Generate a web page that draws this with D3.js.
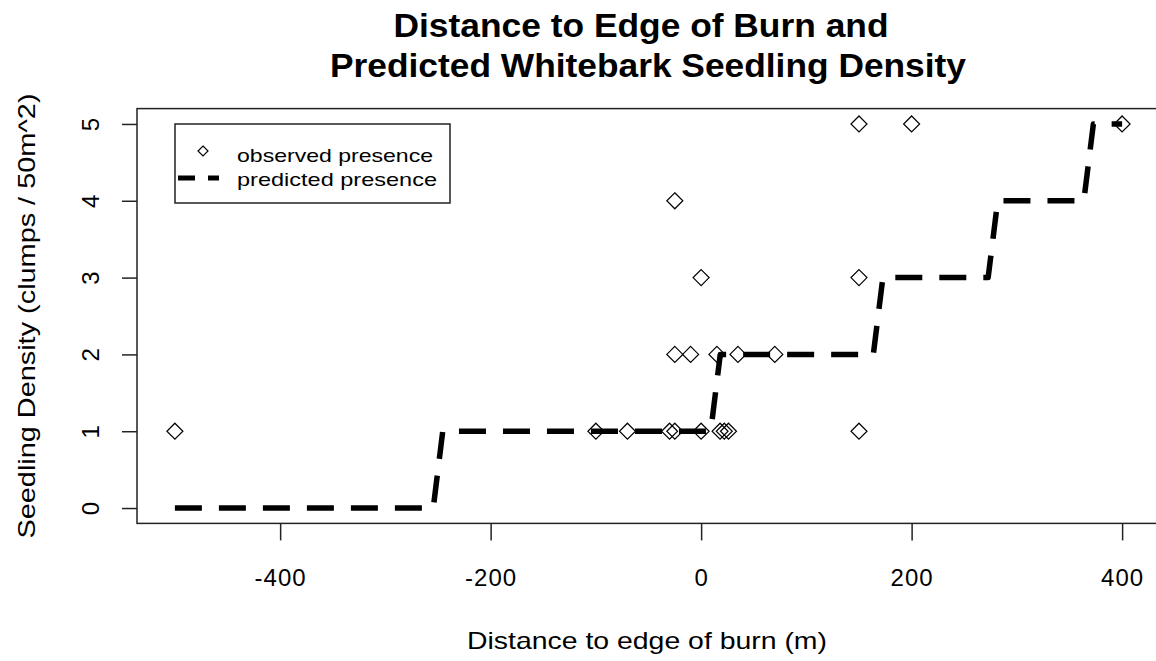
<!DOCTYPE html>
<html>
<head>
<meta charset="utf-8">
<script src="https://cdn.jsdelivr.net/npm/d3@7"></script>
<style>
  body { margin: 0; background: #fff; }
  svg { display: block; font-family: "Liberation Sans", Arial, sans-serif; }
</style>
</head>
<body>
<svg id="chart" width="1156" height="661"></svg>
<script>
// observed seedling density (x = distance to edge of burn, y = clumps / 50m^2)
const obsDist = [400, 200, 150, -25, 0, 150, -25, -10, 15, 35, 70,
	-500, -100, -70, -30, -25, 0, 18, 22, 26, 150];
const obsDensity = [5, 5, 5, 4, 3, 3, 2, 2, 2, 2, 2,
	1, 1, 1, 1, 1, 1, 1, 1, 1, 1];

// predicted (rounded) density, vertices of the step line
const predDist = [-500, -254.5, -245.5, 9.1, 18.2, 163.6, 172.7, 272.7, 281.8, 363.6, 372.7, 400];
const predDensity = [0, 0, 1, 1, 2, 2, 3, 3, 4, 4, 5, 5];

const xTicks = [-400, -200, 0, 200, 400];
const yTicks = [0, 1, 2, 3, 4, 5];

const titleLines = ["Distance to Edge of Burn and", "Predicted Whitebark Seedling Density"];
const xLabel = "Distance to edge of burn (m)";
const yLabel = "Seedling Density (clumps / 50m^2)";
const legendLabels = ["observed presence", "predicted presence"];

const svg = d3.select("#chart");
const margin = { left: 137, right: 1160, top: 108.6, bottom: 523.4 };

// R style 4% padding on both ranges
const x = d3.scaleLinear().domain([-536, 436]).range([margin.left, margin.right]);
const y = d3.scaleLinear().domain([-0.2, 5.2]).range([margin.bottom, margin.top]);

const diamond = (cx, cy, r) => `M${cx},${cy - r}L${cx + r},${cy}L${cx},${cy + r}L${cx - r},${cy}Z`;

// axes
const xAxis = svg.append("g")
	.attr("transform", `translate(0,${margin.bottom})`)
	.call(d3.axisBottom(x).tickValues(xTicks).tickSize(17).tickFormat(d3.format("d")));
xAxis.select(".domain").remove();
xAxis.selectAll("line").attr("stroke", "#222").attr("stroke-width", 1.5);
xAxis.selectAll("text")
	.attr("y", 46)
	.attr("fill", "#000")
	.style("font-size", "24px")
	.style("letter-spacing", "1px")
	.text((d) => String(d));

const yAxis = svg.append("g")
	.attr("transform", `translate(${margin.left},0)`)
	.call(d3.axisLeft(y).tickValues(yTicks).tickSize(15).tickFormat(d3.format("d")));
yAxis.select(".domain").remove();
yAxis.selectAll("line").attr("stroke", "#222").attr("stroke-width", 1.5);
yAxis.selectAll("text")
	.attr("x", 0)
	.attr("dy", null)
	.attr("transform", "translate(-47,0) rotate(-90)")
	.attr("text-anchor", "middle")
	.attr("dominant-baseline", "central")
	.attr("fill", "#000")
	.style("font-size", "24px");

// plot box
svg.append("rect")
	.attr("x", margin.left)
	.attr("y", margin.top)
	.attr("width", margin.right - margin.left)
	.attr("height", margin.bottom - margin.top)
	.attr("fill", "none")
	.attr("stroke", "#222")
	.attr("stroke-width", 1.5);

// observed points
svg.append("g")
	.selectAll("path")
	.data(obsDist.map((d, i) => ({ x: d, y: obsDensity[i] })))
	.join("path")
	.attr("d", (d) => diamond(x(d.x), y(d.y), 8))
	.attr("fill", "none")
	.attr("stroke", "#000")
	.attr("stroke-width", 1.2);

// predicted step line
const predLine = d3.line().x((d) => x(d.x)).y((d) => y(d.y));
svg.append("path")
	.attr("d", predLine(predDist.map((d, i) => ({ x: d, y: predDensity[i] }))))
	.attr("fill", "none")
	.attr("stroke", "#000")
	.attr("stroke-width", 5.5)
	.attr("stroke-dasharray", "27 17")
	.attr("stroke-linejoin", "round");

// title
svg.append("g")
	.selectAll("text")
	.data(titleLines)
	.join("text")
	.attr("x", (d, i) => (i === 0 ? 641 : 648))
	.attr("y", (d, i) => 37 + i * 40)
	.attr("text-anchor", "middle")
	.attr("textLength", (d, i) => (i === 0 ? 495 : 636))
	.attr("lengthAdjust", "spacingAndGlyphs")
	.style("font-size", "33px")
	.style("font-weight", "bold")
	.text((d) => d);

// axis titles
svg.append("text")
	.attr("x", 647)
	.attr("y", 649)
	.attr("text-anchor", "middle")
	.attr("textLength", 360)
	.attr("lengthAdjust", "spacingAndGlyphs")
	.style("font-size", "24px")
	.text(xLabel);

svg.append("text")
	.attr("transform", "translate(35,316) rotate(-90)")
	.attr("text-anchor", "middle")
	.attr("textLength", 445)
	.attr("lengthAdjust", "spacingAndGlyphs")
	.style("font-size", "24px")
	.text(yLabel);

// legend
const legend = svg.append("g");
legend.append("rect")
	.attr("x", 175).attr("y", 124)
	.attr("width", 275).attr("height", 79)
	.attr("fill", "#fff")
	.attr("stroke", "#222")
	.attr("stroke-width", 1.5);
legend.append("path")
	.attr("d", diamond(203, 151, 5))
	.attr("fill", "none")
	.attr("stroke", "#000")
	.attr("stroke-width", 1.2);
legend.append("line")
	.attr("x1", 178).attr("x2", 219)
	.attr("y1", 178).attr("y2", 178)
	.attr("stroke", "#000")
	.attr("stroke-width", 5)
	.attr("stroke-dasharray", "17 13");
legend.selectAll("text.lab")
	.data(legendLabels)
	.join("text")
	.attr("class", "lab")
	.attr("x", 237)
	.attr("y", (d, i) => 162 + i * 24)
	.attr("textLength", (d, i) => (i === 0 ? 196 : 200))
	.attr("lengthAdjust", "spacingAndGlyphs")
	.style("font-size", "19px")
	.text((d) => d);
</script>
</body>
</html>
